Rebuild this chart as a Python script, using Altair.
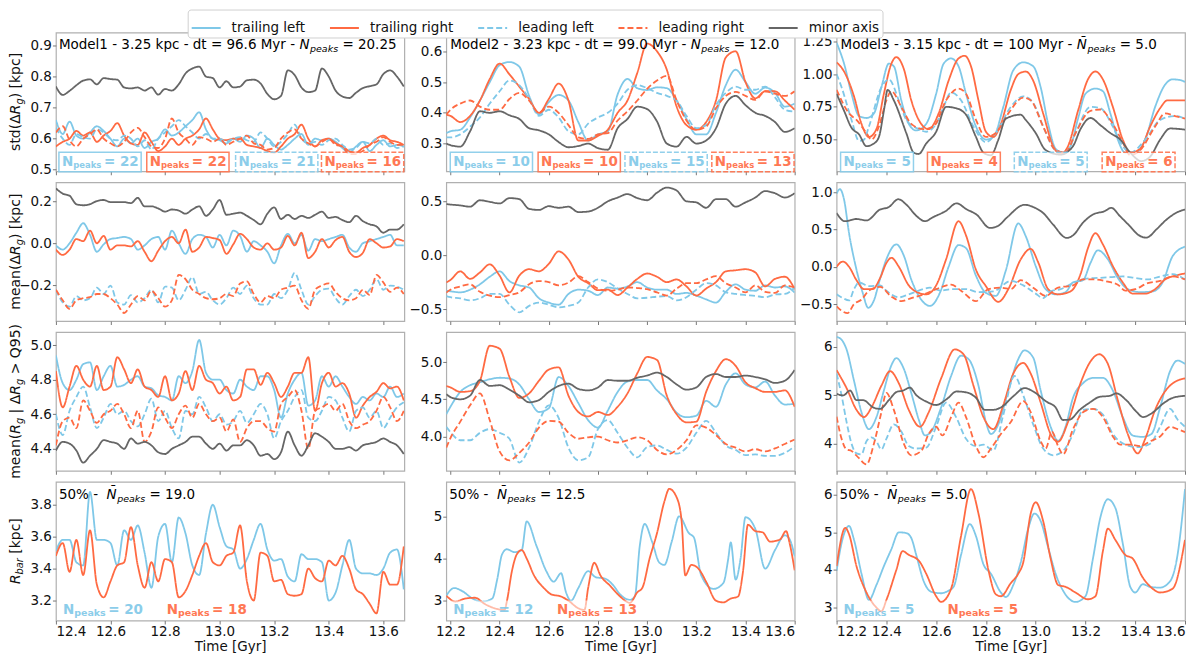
import altair as alt
import pandas as pd

SERIES = ["trailing left", "trailing right", "leading left", "leading right", "minor axis"]
BLUE = "#7FC8E8"
ORANGE = "#FF6A42"
GREY = "#666666"
COLORS = [BLUE, ORANGE, BLUE, ORANGE, GREY]
DASHES = [[1, 0], [1, 0], [6, 3], [6, 3], [1, 0]]

# sample times (Gyr)
T1 = [round(12.4 + 0.025 * i, 3) for i in range(52)]
T2 = [12.183] + [round(12.2 + 0.04 * k, 2) for k in range(36)]

# ---------------- Model1 ----------------
M1_STD_TL = [0.66,0.615,0.655,0.61,0.60,0.62,0.64,0.625,0.60,0.575, 0.60,0.585,0.60,0.57,0.59,0.60,0.63,0.61,0.62,0.64,
             0.66,0.685,0.63,0.60,0.595,0.585,0.60,0.59,0.61,0.60, 0.57,0.60,0.58,0.565,0.58,0.60,0.615,0.58,0.60,0.595,
             0.60,0.59,0.57,0.555,0.575,0.59,0.56,0.58,0.595,0.575, 0.58,0.575]
M1_STD_TR = [0.575,0.59,0.60,0.625,0.61,0.62,0.59,0.61,0.625,0.65, 0.61,0.585,0.58,0.62,0.59,0.56,0.575,0.60,0.58,0.60,
             0.61,0.63,0.665,0.63,0.60,0.595,0.60,0.60,0.58,0.575, 0.57,0.56,0.555,0.575,0.60,0.615,0.645,0.60,0.575,0.595,
             0.60,0.585,0.575,0.56,0.555,0.57,0.58,0.60,0.61,0.595, 0.59,0.58]
M1_STD_LL = [0.635,0.60,0.58,0.615,0.605,0.60,0.63,0.62,0.60,0.595, 0.61,0.60,0.575,0.595,0.565,0.60,0.62,0.64,0.66,0.64,
             0.62,0.60,0.615,0.60,0.60,0.59,0.60,0.605,0.595,0.59, 0.62,0.60,0.575,0.59,0.615,0.645,0.60,0.585,0.59,0.58,
             0.595,0.60,0.58,0.565,0.57,0.59,0.585,0.60,0.58,0.585, 0.57,0.575]
M1_STD_LR = [0.62,0.64,0.595,0.575,0.60,0.615,0.63,0.60,0.585,0.575, 0.59,0.62,0.635,0.605,0.575,0.57,0.60,0.665,0.62,0.60,
             0.58,0.605,0.60,0.59,0.60,0.58,0.59,0.60,0.61,0.585, 0.58,0.565,0.57,0.60,0.62,0.63,0.60,0.585,0.575,0.59,
             0.60,0.58,0.575,0.55,0.55,0.56,0.58,0.59,0.605,0.59, 0.58,0.58]
M1_STD_MN = [0.768,0.741,0.754,0.772,0.787,0.791,0.775,0.795,0.792,0.79, 0.765,0.762,0.765,0.755,0.765,0.742,0.76,0.755,0.775,0.81,
             0.826,0.832,0.80,0.795,0.765,0.785,0.765,0.768,0.788,0.79, 0.778,0.744,0.727,0.738,0.82,0.805,0.765,0.75,0.755,0.826,
             0.80,0.755,0.736,0.731,0.748,0.763,0.769,0.775,0.808,0.82, 0.80,0.768]

M1_MEAN_TL = [-0.01,-0.03,0.0,0.05,0.095,0.04,-0.04,-0.005,0.02,0.025, 0.03,0.02,-0.03,-0.01,0.02,0.03,-0.03,0.06,0.0,-0.05,
              0.02,0.04,0.03,-0.02,0.04,-0.01,0.06,0.035,-0.04,0.01, -0.01,-0.04,-0.095,-0.01,0.045,0.0,0.04,-0.035,0.02,0.01,
              0.02,0.03,0.04,-0.02,-0.04,0.0,0.01,0.02,0.03,0.04, -0.01,-0.01]
M1_MEAN_TR = [-0.03,-0.055,-0.03,0.02,0.01,0.06,0.0,0.035,-0.03,-0.01, -0.01,-0.015,0.01,-0.04,-0.085,-0.035,0.01,0.03,0.0,0.065,
              -0.04,-0.02,0.03,0.025,0.015,-0.05,-0.005,0.045,0.02,-0.02, -0.03,0.0,-0.03,-0.02,0.035,-0.01,0.05,-0.07,-0.04,0.02,
              -0.02,0.015,0.03,-0.04,-0.065,-0.045,0.02,0.0,-0.02,-0.015, 0.02,0.01]
M1_MEAN_LL = [-0.22,-0.28,-0.30,-0.25,-0.27,-0.26,-0.21,-0.24,-0.20,-0.28, -0.29,-0.245,-0.28,-0.26,-0.22,-0.28,-0.205,-0.21,-0.27,-0.22,
              -0.16,-0.24,-0.23,-0.27,-0.29,-0.26,-0.21,-0.24,-0.20,-0.26, -0.29,-0.29,-0.24,-0.26,-0.22,-0.14,-0.22,-0.29,-0.25,-0.22,
              -0.215,-0.26,-0.29,-0.25,-0.22,-0.25,-0.22,-0.17,-0.22,-0.20, -0.205,-0.22]
M1_MEAN_LR = [-0.22,-0.27,-0.31,-0.27,-0.26,-0.255,-0.24,-0.24,-0.26,-0.29, -0.33,-0.29,-0.25,-0.27,-0.225,-0.26,-0.30,-0.27,-0.15,-0.17,
              -0.22,-0.24,-0.26,-0.265,-0.26,-0.24,-0.25,-0.19,-0.18,-0.24, -0.28,-0.25,-0.26,-0.22,-0.21,-0.20,-0.27,-0.31,-0.22,-0.20,
              -0.19,-0.23,-0.26,-0.27,-0.26,-0.22,-0.245,-0.15,-0.185,-0.23, -0.21,-0.24]
M1_MEAN_MN = [0.26,0.235,0.225,0.185,0.18,0.185,0.20,0.205,0.195,0.195, 0.195,0.19,0.215,0.175,0.175,0.165,0.15,0.16,0.155,0.14,
              0.16,0.175,0.13,0.16,0.205,0.135,0.14,0.145,0.13,0.11, 0.09,0.14,0.17,0.115,0.135,0.115,0.13,0.12,0.135,0.15,
              0.12,0.125,0.11,0.10,0.13,0.105,0.09,0.08,0.05,0.065, 0.065,0.09]

M1_Q95_TL = [4.94,4.78,4.74,4.80,4.89,4.90,4.74,4.82,4.88,4.76, 4.77,4.80,4.82,4.76,4.75,4.71,4.70,4.68,4.82,4.78,
             4.85,5.03,4.84,4.80,4.80,4.74,4.72,4.80,4.76,4.74, 4.82,4.82,4.74,4.58,4.72,4.80,4.84,4.65,4.68,4.82,
             4.76,4.82,4.76,4.70,4.66,4.70,4.68,4.72,4.70,4.76, 4.70,4.72]
M1_Q95_TR = [4.85,4.64,4.76,4.88,4.80,4.76,4.88,4.74,4.76,4.93, 4.86,4.78,4.86,4.76,4.74,4.70,4.82,4.68,4.72,4.85,
             4.74,4.88,4.80,4.78,4.72,4.76,4.68,4.70,4.86,4.86, 4.77,4.84,4.78,4.70,4.76,4.84,4.84,4.93,4.62,4.78,
             4.84,4.76,4.78,4.72,4.58,4.65,4.70,4.73,4.78,4.75, 4.76,4.68]
M1_Q95_LL = [4.60,4.48,4.62,4.70,4.76,4.64,4.52,4.58,4.66,4.60, 4.62,4.56,4.53,4.60,4.69,4.56,4.62,4.52,4.46,4.62,
             4.60,4.70,4.64,4.56,4.60,4.54,4.56,4.62,4.55,4.60, 4.66,4.60,4.46,4.56,4.62,4.70,4.74,4.58,4.56,4.62,
             4.70,4.68,4.58,4.50,4.62,4.64,4.58,4.62,4.52,4.58, 4.64,4.67]
M1_Q95_LR = [4.42,4.56,4.58,4.52,4.68,4.62,4.55,4.60,4.62,4.66, 4.60,4.52,4.62,4.44,4.50,4.64,4.58,4.52,4.60,4.65,
             4.58,4.66,4.60,4.56,4.58,4.50,4.57,4.44,4.52,4.56, 4.56,4.52,4.50,4.66,4.70,4.74,4.62,4.40,4.62,4.64,
             4.66,4.62,4.66,4.56,4.52,4.54,4.56,4.62,4.70,4.64, 4.56,4.62]
M1_Q95_MN = [4.39,4.44,4.43,4.39,4.32,4.36,4.40,4.45,4.44,4.43, 4.40,4.46,4.43,4.44,4.42,4.38,4.37,4.40,4.42,4.44,
             4.47,4.47,4.43,4.40,4.43,4.39,4.42,4.42,4.45,4.42, 4.36,4.37,4.34,4.38,4.50,4.42,4.36,4.42,4.49,4.47,
             4.44,4.40,4.40,4.41,4.39,4.42,4.43,4.44,4.46,4.44, 4.42,4.37]

M1_RBAR_TL = [3.51,3.58,3.58,3.44,3.42,3.88,3.58,3.58,3.56,3.42, 3.64,3.58,3.67,3.50,3.28,3.60,3.68,3.44,3.72,3.62,
              3.42,3.36,3.62,3.80,3.66,3.54,3.52,3.40,3.46,3.58, 3.68,3.52,3.45,3.46,3.35,3.32,3.49,3.46,3.46,3.44,
              3.20,3.25,3.42,3.58,3.40,3.37,3.37,3.36,3.40,3.50, 3.52,3.27]
M1_RBAR_TR = [3.48,3.56,3.38,3.58,3.36,3.64,3.30,3.22,3.32,3.42, 3.44,3.66,3.42,3.28,3.44,3.32,3.46,3.44,3.22,3.26,
              3.36,3.48,3.56,3.44,3.42,3.48,3.50,3.67,3.32,3.20, 3.50,3.48,3.32,3.33,3.24,3.23,3.24,3.40,3.34,3.32,
              3.45,3.42,3.48,3.40,3.27,3.24,3.18,3.12,3.38,3.30, 3.30,3.54]

# ---------------- Model2 ----------------
M2_STD_TL = [0.334, 0.34,0.345,0.385,0.44,0.50,0.555,0.565,0.55,0.455,0.395, 0.435,0.458,0.44,0.37,0.31,0.33,0.34,0.46,0.51,0.48,
             0.474,0.483,0.48,0.44,0.38,0.33,0.33,0.40,0.49,0.54, 0.50,0.462,0.482,0.465,0.42,0.43]
M2_STD_TR = [0.394, 0.39,0.37,0.39,0.44,0.51,0.56,0.525,0.485,0.445,0.40, 0.445,0.495,0.44,0.31,0.31,0.325,0.345,0.40,0.44,0.53,
             0.625,0.60,0.54,0.42,0.36,0.345,0.37,0.44,0.58,0.60, 0.50,0.447,0.47,0.47,0.44,0.41]
M2_STD_LL = [0.32, 0.32,0.33,0.355,0.385,0.43,0.47,0.505,0.49,0.445,0.39, 0.41,0.385,0.34,0.33,0.365,0.385,0.40,0.43,0.475,0.49,
             0.48,0.465,0.455,0.44,0.39,0.35,0.36,0.425,0.465,0.485, 0.475,0.475,0.485,0.45,0.41,0.404]
M2_STD_LR = [0.394, 0.41,0.43,0.44,0.42,0.41,0.41,0.445,0.465,0.44,0.40, 0.42,0.40,0.36,0.32,0.315,0.33,0.334,0.375,0.405,0.44,
             0.478,0.505,0.52,0.44,0.375,0.345,0.355,0.415,0.455,0.468, 0.455,0.442,0.47,0.462,0.455,0.47]
M2_STD_MN = [0.30, 0.295,0.29,0.34,0.405,0.40,0.405,0.392,0.38,0.35,0.343, 0.33,0.305,0.288,0.292,0.30,0.285,0.28,0.35,0.38,0.42,
             0.412,0.372,0.30,0.29,0.322,0.30,0.31,0.35,0.43,0.455, 0.425,0.40,0.39,0.37,0.338,0.35]

M2_MEAN_TL = [-0.33, -0.335,-0.345,-0.32,-0.27,-0.20,-0.15,-0.24,-0.28,-0.30,-0.40, -0.44,-0.46,-0.36,-0.32,-0.33,-0.37,-0.30,-0.31,-0.29,-0.25,
              -0.30,-0.32,-0.32,-0.36,-0.35,-0.375,-0.41,-0.44,-0.34,-0.27, -0.32,-0.33,-0.28,-0.30,-0.29,-0.347]
M2_MEAN_TR = [-0.254, -0.23,-0.15,-0.22,-0.16,-0.085,-0.19,-0.345,-0.19,-0.13,-0.15, -0.08,0.035,-0.04,-0.20,-0.26,-0.325,-0.32,-0.37,-0.30,-0.22,
              -0.17,-0.20,-0.25,-0.225,-0.29,-0.375,-0.31,-0.25,-0.15,-0.14, -0.13,-0.16,-0.29,-0.22,-0.20,-0.316]
M2_MEAN_LL = [-0.38, -0.39,-0.40,-0.42,-0.40,-0.36,-0.36,-0.46,-0.53,-0.47,-0.44, -0.46,-0.485,-0.47,-0.44,-0.30,-0.225,-0.25,-0.31,-0.36,-0.40,
              -0.395,-0.385,-0.38,-0.42,-0.39,-0.32,-0.26,-0.28,-0.345,-0.36, -0.37,-0.378,-0.39,-0.365,-0.36,-0.30]
M2_MEAN_LR = [-0.347, -0.32,-0.29,-0.27,-0.34,-0.375,-0.39,-0.37,-0.345,-0.27,-0.24, -0.25,-0.28,-0.255,-0.195,-0.25,-0.31,-0.33,-0.32,-0.30,-0.305,
              -0.316,-0.345,-0.375,-0.31,-0.26,-0.26,-0.225,-0.195,-0.26,-0.30, -0.345,-0.28,-0.34,-0.35,-0.28,-0.30]
M2_MEAN_MN = [0.474, 0.47,0.462,0.45,0.51,0.495,0.48,0.53,0.52,0.43,0.42, 0.455,0.44,0.45,0.40,0.405,0.44,0.50,0.535,0.567,0.53,
              0.51,0.58,0.628,0.60,0.50,0.49,0.44,0.52,0.52,0.45, 0.49,0.535,0.595,0.575,0.535,0.576]

M2_Q95_TL = [4.30, 4.40,4.60,4.69,4.73,4.77,4.79,4.78,4.70,4.50,4.33, 4.38,4.80,4.68,4.45,4.22,4.12,4.35,4.60,4.74,4.76,
             4.76,4.62,4.50,4.32,4.26,4.28,4.48,4.40,4.70,4.85, 4.70,4.66,4.74,4.55,4.43,4.44]
M2_Q95_TR = [4.68, 4.66,4.60,4.61,4.75,5.22,5.18,4.80,4.52,4.58,4.75, 4.90,4.93,4.55,4.33,4.27,4.33,4.29,4.40,4.58,4.85,
             5.07,5.03,4.55,4.30,4.19,4.20,4.60,4.88,5.04,4.95, 4.73,4.65,4.60,4.60,4.62,4.40]
M2_Q95_LL = [4.13, 4.06,3.95,3.95,4.05,4.10,4.05,3.97,3.65,3.85,4.20, 4.42,4.25,3.85,3.68,3.72,4.10,4.22,4.05,3.85,3.72,
             3.86,3.88,3.82,3.77,3.85,4.05,4.21,4.05,3.88,3.82, 3.75,3.76,3.74,3.74,3.78,3.87]
M2_Q95_LR = [3.85, 3.98,4.20,4.42,4.58,4.22,3.80,3.68,3.78,3.92,4.12, 4.21,4.20,4.05,3.97,3.99,4.00,3.95,3.92,3.95,3.99,
             3.95,3.82,3.76,3.82,3.95,4.15,4.12,4.02,3.90,3.85, 3.80,3.83,3.80,3.84,3.90,3.96]
M2_Q95_MN = [4.57, 4.53,4.50,4.55,4.76,4.68,4.69,4.63,4.55,4.46,4.49, 4.60,4.68,4.71,4.64,4.62,4.66,4.76,4.75,4.75,4.79,
             4.82,4.86,4.80,4.70,4.63,4.66,4.80,4.84,4.80,4.80, 4.82,4.80,4.77,4.72,4.75,4.895]

M2_RBAR_TL = [(12.183,3.12),(12.215,3.30),(12.25,3.22),(12.29,3.05),(12.33,2.98),(12.37,3.05),(12.39,3.5),(12.41,4.1),
              (12.43,4.22),(12.46,4.15),(12.49,4.2),(12.51,4.88),(12.55,4.3),(12.59,3.7),(12.62,3.45),(12.65,3.65),
              (12.67,3.2),(12.69,3.0),(12.72,3.3),(12.76,3.7),(12.79,3.56),(12.83,3.52),(12.86,3.38),(12.89,3.15),
              (12.93,3.02),(12.95,3.1),(12.97,4.3),(12.99,4.82),(13.02,4.4),(13.05,3.9),(13.07,3.85),(13.10,4.4),
              (13.13,5.0),(13.17,4.6),(13.19,4.5),(13.22,3.6),(13.27,3.28),(13.31,3.42),(13.33,4.0),(13.34,4.38),
              (13.36,3.5),(13.38,4.0),(13.40,4.98),(13.44,4.7),(13.48,3.76),(13.52,4.2),(13.56,4.55),(13.58,4.45),(13.60,4.05)]
M2_RBAR_TR = [(12.183,3.12),(12.22,2.98),(12.26,3.05),(12.30,3.07),(12.34,2.92),(12.38,2.82),(12.42,2.78),(12.43,3.0),
              (12.45,3.7),(12.47,4.1),(12.49,4.2),(12.51,4.0),(12.54,3.6),(12.58,3.3),(12.61,3.15),(12.65,3.1),
              (12.68,3.0),(12.72,2.82),(12.745,2.78),(12.76,3.3),(12.785,3.9),(12.81,3.6),(12.85,3.35),(12.89,3.1),
              (12.93,2.95),(12.96,3.2),(12.98,3.3),(13.01,4.0),(13.04,4.6),(13.07,5.35),(13.09,5.65),(13.12,5.45),
              (13.14,4.9),(13.155,3.6),(13.18,3.85),(13.21,3.75),(13.24,3.45),(13.28,3.0),(13.31,2.96),(13.34,3.05),
              (13.37,3.1),(13.39,3.7),(13.41,4.8),(13.44,4.65),(13.47,4.62),(13.50,4.4),(13.54,4.45),(13.565,4.65),
              (13.58,4.35),(13.60,3.72)]

# ---------------- Model3 ----------------
M3_STD_TL = [(12.20,1.24),(12.23,1.08),(12.26,0.85),(12.29,0.68),(12.32,0.665),(12.35,0.70),(12.38,0.90),(12.41,1.08),
             (12.43,1.06),(12.46,0.80),(12.49,0.62),(12.52,0.57),(12.56,0.62),(12.60,0.85),(12.63,1.08),(12.66,1.12),
             (12.69,1.06),(12.72,0.85),(12.76,0.60),(12.80,0.50),(12.83,0.52),(12.87,0.75),(12.91,1.03),(12.95,1.09),
             (12.99,1.06),(13.02,0.90),(13.05,0.62),(13.08,0.43),(13.11,0.40),(13.14,0.45),(13.17,0.66),(13.20,0.85),
             (13.24,0.89),(13.27,0.87),(13.30,0.70),(13.33,0.50),(13.36,0.40),(13.40,0.40),(13.44,0.50),(13.48,0.75),
             (13.52,0.92),(13.55,0.96),(13.58,0.955),(13.60,0.94)]
M3_STD_TR = [(12.20,1.09),(12.23,1.02),(12.27,0.83),(12.30,0.62),(12.33,0.52),(12.36,0.58),(12.39,0.85),(12.42,1.08),
             (12.44,1.13),(12.47,1.04),(12.50,0.80),(12.54,0.62),(12.57,0.58),(12.61,0.70),(12.65,0.95),(12.69,1.12),
             (12.715,1.14),(12.74,1.06),(12.77,0.80),(12.80,0.56),(12.83,0.52),(12.86,0.62),(12.90,0.88),(12.93,1.00),
             (12.96,1.02),(12.99,0.95),(13.03,0.70),(13.07,0.45),(13.10,0.39),(13.13,0.45),(13.17,0.72),(13.21,0.96),
             (13.24,1.02),(13.27,0.96),(13.31,0.75),(13.35,0.50),(13.38,0.40),(13.42,0.43),(13.46,0.60),(13.50,0.74),
             (13.53,0.80),(13.60,0.80)]
M3_STD_LL = [(12.20,1.00),(12.22,0.90),(12.26,0.65),(12.29,0.49),(12.31,0.50),(12.33,0.60),(12.38,0.90),(12.41,0.96),
             (12.45,0.80),(12.48,0.65),(12.53,0.58),(12.56,0.56),(12.60,0.62),(12.63,0.75),(12.66,0.86),(12.70,0.80),
             (12.75,0.60),(12.80,0.48),(12.84,0.55),(12.90,0.75),(12.95,0.83),(12.99,0.78),(13.03,0.60),(13.08,0.42),
             (13.12,0.40),(13.16,0.55),(13.22,0.75),(13.26,0.74),(13.31,0.60),(13.35,0.45),(13.38,0.40),(13.44,0.50),
             (13.50,0.65),(13.56,0.68),(13.60,0.66)]
M3_STD_LR = [(12.20,0.88),(12.25,0.70),(12.28,0.65),(12.32,0.55),(12.34,0.50),(12.37,0.60),(12.40,0.80),(12.42,0.87),
             (12.46,0.75),(12.50,0.62),(12.55,0.58),(12.59,0.60),(12.64,0.80),(12.69,0.89),(12.72,0.85),(12.76,0.65),
             (12.80,0.52),(12.84,0.55),(12.89,0.70),(12.95,0.82),(12.98,0.80),(13.03,0.60),(13.08,0.42),(13.12,0.40),
             (13.16,0.55),(13.22,0.72),(13.26,0.73),(13.30,0.65),(13.35,0.48),(13.38,0.38),(13.42,0.42),(13.48,0.60),
             (13.52,0.70),(13.56,0.68),(13.60,0.66)]
M3_STD_MN = [(12.20,0.85),(12.23,0.72),(12.26,0.59),(12.29,0.54),(12.32,0.45),(12.35,0.47),(12.37,0.52),(12.39,0.72),
             (12.405,0.88),(12.43,0.80),(12.48,0.55),(12.51,0.40),(12.53,0.39),(12.56,0.47),(12.60,0.56),(12.64,0.75),
             (12.68,0.74),(12.72,0.69),(12.76,0.52),(12.79,0.40),(12.82,0.38),(12.85,0.50),(12.88,0.66),(12.94,0.69),
             (12.96,0.65),(13.00,0.55),(13.04,0.42),(13.10,0.385),(13.15,0.45),(13.18,0.58),(13.22,0.665),(13.26,0.61),
             (13.30,0.55),(13.34,0.50),(13.38,0.40),(13.425,0.336),(13.46,0.37),(13.50,0.50),(13.54,0.585),(13.60,0.576)]

M3_MEAN_TL = [(12.20,0.98),(12.213,1.04),(12.23,0.90),(12.25,0.45),(12.28,-0.04),(12.305,-0.35),(12.327,-0.55),(12.35,-0.45),
              (12.374,-0.17),(12.40,0.10),(12.44,0.30),(12.47,0.15),(12.50,-0.17),(12.54,-0.44),(12.575,-0.525),(12.615,-0.35),
              (12.65,0.0),(12.69,0.29),(12.72,0.25),(12.76,-0.12),(12.80,-0.35),(12.84,-0.39),(12.88,-0.05),(12.93,0.58),
              (12.96,0.41),(13.00,0.01),(13.04,-0.30),(13.08,-0.37),(13.12,-0.34),(13.15,-0.21),(13.19,-0.18),(13.22,0.05),
              (13.25,0.22),(13.29,0.10),(13.33,-0.15),(13.37,-0.30),(13.42,-0.34),(13.47,-0.33),(13.51,-0.21),(13.55,0.14),(13.60,0.27)]
M3_MEAN_TR = [(12.20,0.0),(12.225,0.07),(12.25,0.0),(12.28,-0.18),(12.31,-0.30),(12.345,-0.30),(12.375,-0.15),(12.40,0.05),
              (12.42,0.12),(12.45,0.0),(12.49,-0.25),(12.53,-0.35),(12.56,-0.37),(12.60,-0.25),(12.64,0.10),(12.69,0.61),
              (12.72,0.42),(12.76,-0.04),(12.80,-0.26),(12.85,-0.47),(12.89,-0.30),(12.94,0.10),(12.98,0.24),(13.01,0.06),
              (13.05,-0.30),(13.09,-0.37),(13.14,-0.33),(13.18,-0.10),(13.21,0.25),(13.24,0.45),(13.27,0.30),(13.31,0.01),
              (13.35,-0.21),(13.39,-0.36),(13.44,-0.36),(13.48,-0.30),(13.52,-0.17),(13.56,-0.12),(13.60,-0.09)]
M3_MEAN_LL = [(12.20,-0.37),(12.225,-0.42),(12.25,-0.45),(12.27,-0.30),(12.29,-0.21),(12.33,-0.26),(12.375,-0.25),(12.40,-0.32),
              (12.45,-0.41),(12.49,-0.37),(12.53,-0.32),(12.575,-0.28),(12.62,-0.32),(12.66,-0.30),(12.72,-0.30),(12.77,-0.34),
              (12.83,-0.33),(12.90,-0.19),(12.95,-0.25),(13.00,-0.36),(13.03,-0.42),(13.06,-0.33),(13.10,-0.30),(13.15,-0.22),
              (13.20,-0.16),(13.25,-0.15),(13.30,-0.14),(13.35,-0.13),(13.40,-0.15),(13.45,-0.17),(13.50,-0.13),(13.55,-0.10),(13.60,-0.17)]
M3_MEAN_LR = [(12.20,-0.53),(12.225,-0.60),(12.245,-0.62),(12.27,-0.50),(12.30,-0.44),(12.33,-0.32),(12.375,-0.27),(12.42,-0.40),
              (12.46,-0.46),(12.50,-0.42),(12.55,-0.37),(12.60,-0.30),(12.66,-0.24),(12.70,-0.32),(12.76,-0.46),(12.81,-0.30),
              (12.86,-0.28),(12.90,-0.30),(12.94,-0.18),(12.99,-0.28),(13.04,-0.39),(13.09,-0.28),(13.15,-0.25),(13.19,-0.17),
              (13.24,-0.17),(13.29,-0.20),(13.33,-0.24),(13.36,-0.32),(13.40,-0.30),(13.45,-0.22),(13.50,-0.19),(13.55,-0.13),(13.60,-0.17)]
M3_MEAN_MN = [(12.20,0.72),(12.233,0.61),(12.28,0.64),(12.32,0.62),(12.374,0.765),(12.41,0.80),(12.448,0.905),(12.481,0.83),
              (12.521,0.68),(12.555,0.61),(12.588,0.665),(12.64,0.75),(12.682,0.85),(12.722,0.77),(12.762,0.70),(12.816,0.52),
              (12.85,0.55),(12.883,0.655),(12.956,0.83),(12.99,0.80),(13.03,0.72),(13.07,0.565),(13.124,0.387),(13.15,0.42),
              (13.19,0.59),(13.23,0.70),(13.277,0.745),(13.304,0.79),(13.338,0.68),(13.378,0.545),(13.411,0.43),(13.445,0.39),
              (13.485,0.50),(13.525,0.63),(13.579,0.745),(13.60,0.765)]

M3_Q95_TL = [(12.20,6.21),(12.22,6.15),(12.24,5.95),(12.27,5.30),(12.30,4.65),(12.33,4.30),(12.36,4.55),(12.39,5.10),
             (12.42,5.62),(12.44,5.77),(12.47,5.55),(12.50,5.05),(12.53,4.50),(12.555,4.17),(12.58,4.25),(12.62,4.75),
             (12.66,5.40),(12.70,5.82),(12.73,5.75),(12.77,5.20),(12.80,4.45),(12.82,4.20),(12.85,4.40),(12.89,5.10),
             (12.93,5.75),(12.955,5.93),(12.99,5.78),(13.02,5.10),(13.06,4.35),(13.09,4.06),(13.12,4.35),(13.15,4.95),
             (13.19,5.25),(13.23,5.36),(13.27,5.36),(13.31,5.10),(13.35,4.55),(13.39,4.17),(13.43,4.14),(13.465,4.20),
             (13.50,4.75),(13.54,5.50),(13.57,5.72),(13.60,5.65)]
M3_Q95_TR = [(12.20,5.52),(12.24,5.15),(12.28,4.70),(12.31,4.55),(12.34,4.75),(12.38,5.20),(12.415,5.50),(12.45,5.25),
             (12.49,4.70),(12.535,4.35),(12.57,4.65),(12.62,5.35),(12.675,5.95),(12.71,5.85),(12.75,5.20),(12.79,4.55),
             (12.83,4.30),(12.87,4.80),(12.91,5.45),(12.95,5.67),(12.98,5.45),(13.02,4.85),(13.06,4.20),(13.09,4.04),
             (13.13,4.45),(13.18,5.25),(13.22,5.70),(13.255,5.85),(13.29,5.65),(13.33,4.90),(13.37,4.20),(13.41,3.80),
             (13.44,4.10),(13.48,4.70),(13.53,5.15),(13.56,5.28),(13.60,5.35)]
M3_Q95_LL = [(12.20,5.45),(12.22,5.00),(12.24,4.45),(12.26,4.00),(12.28,3.80),(12.30,3.78),(12.32,4.05),(12.34,4.13),
             (12.36,4.05),(12.38,3.88),(12.40,4.10),(12.43,4.40),(12.46,4.25),(12.49,3.95),(12.52,3.90),(12.56,3.92),
             (12.60,4.35),(12.64,4.85),(12.68,4.55),(12.72,4.10),(12.76,3.95),(12.79,3.98),(12.83,3.86),(12.87,4.60),
             (12.915,5.40),(12.95,5.00),(12.99,4.40),(13.03,3.90),(13.07,3.76),(13.11,3.85),(13.15,4.20),(13.19,4.70),
             (13.23,4.72),(13.27,4.60),(13.31,4.20),(13.36,3.98),(13.41,3.93),(13.46,4.00),(13.50,4.35),(13.54,4.72),
             (13.57,4.50),(13.60,4.35)]
M3_Q95_LR = [(12.20,4.56),(12.22,4.10),(12.24,3.88),(12.26,3.85),(12.29,3.70),(12.32,3.57),(12.35,4.00),(12.38,4.65),
             (12.40,5.05),(12.43,4.70),(12.47,4.00),(12.50,3.76),(12.54,3.85),(12.57,4.20),(12.60,4.35),(12.625,4.17),
             (12.66,4.55),(12.69,4.85),(12.72,4.55),(12.76,3.95),(12.79,3.72),(12.82,3.90),(12.86,4.20),(12.90,4.45),
             (12.95,4.88),(12.98,4.65),(13.02,4.05),(13.04,3.90),(13.065,4.25),(13.09,3.95),(13.11,3.78),(13.15,4.30),
             (13.19,4.65),(13.23,4.72),(13.27,4.55),(13.31,4.15),(13.34,3.98),(13.38,3.98),(13.42,3.95),(13.46,4.05),
             (13.50,4.15),(13.54,4.35),(13.57,4.30),(13.60,4.24)]
M3_Q95_MN = [(12.20,5.03),(12.227,5.0),(12.254,5.10),(12.28,4.90),(12.307,4.90),(12.347,4.75),(12.374,4.72),(12.41,4.90),
             (12.441,5.07),(12.468,5.10),(12.494,5.16),(12.521,5.0),(12.561,4.87),(12.60,4.80),(12.642,4.92),(12.682,5.08),
             (12.722,5.06),(12.76,4.95),(12.796,4.70),(12.829,4.70),(12.863,4.76),(12.91,4.98),(12.956,5.15),(12.99,5.08),
             (13.043,4.87),(13.08,4.75),(13.11,4.49),(13.137,4.50),(13.177,4.70),(13.217,4.85),(13.257,4.97),(13.298,4.99),
             (13.324,5.04),(13.364,4.90),(13.405,4.66),(13.431,4.55),(13.472,4.65),(13.512,4.83),(13.552,4.95),(13.60,4.99)]

M3_RBAR_TL = [(12.20,3.98),(12.225,4.85),(12.25,5.17),(12.27,4.80),(12.30,3.90),(12.33,3.20),(12.36,3.60),(12.39,4.10),
              (12.42,4.55),(12.45,5.00),(12.48,4.98),(12.50,4.85),(12.52,4.40),(12.55,3.70),(12.58,3.42),(12.62,3.38),
              (12.65,3.45),(12.67,3.55),(12.70,4.40),(12.735,5.22),(12.76,4.90),(12.79,4.15),(12.82,3.90),(12.86,3.40),
              (12.88,3.28),(12.91,3.60),(12.94,4.20),(12.97,5.10),(12.995,5.50),(13.02,5.30),(13.05,4.60),(13.08,3.90),
              (13.11,3.45),(13.16,3.15),(13.20,3.30),(13.23,4.30),(13.26,5.40),(13.29,5.88),(13.32,5.65),(13.35,4.70),
              (13.38,3.55),(13.40,3.40),(13.43,3.62),(13.46,3.55),(13.50,3.53),(13.54,3.70),(13.57,4.40),(13.60,6.15)]
M3_RBAR_TR = [(12.20,4.10),(12.235,5.12),(12.25,4.95),(12.28,4.10),(12.32,3.40),(12.36,3.00),(12.38,2.90),(12.40,3.20),
              (12.44,4.00),(12.465,4.50),(12.49,4.40),(12.53,4.25),(12.56,3.90),(12.60,3.30),(12.62,3.15),(12.66,3.50),
              (12.70,4.90),(12.74,6.15),(12.77,5.50),(12.81,4.00),(12.84,3.35),(12.86,3.30),(12.90,3.65),(12.93,3.90),
              (12.95,4.20),(12.98,5.50),(13.00,5.80),(13.03,5.30),(13.06,4.30),(13.09,3.60),(13.12,3.55),(13.16,3.40),
              (13.21,3.22),(13.24,3.30),(13.27,4.50),(13.29,5.10),(13.32,4.80),(13.36,4.40),(13.39,4.30),(13.43,3.80),
              (13.47,3.50),(13.50,3.40),(13.55,3.50),(13.60,4.80)]

# ---------------- texts ----------------
MODEL_INFO = ["Model1 - 3.25 kpc - dt = 96.6 Myr - ", "Model2 - 3.23 kpc - dt = 99.0 Myr - ",
              "Model3 - 3.15 kpc - dt = 100 Myr - "]
MEAN_NPEAKS = ["20.25", "12.0", "5.0"]
MEAN_NPEAKS_50 = ["19.0", "12.5", "5.0"]
NPEAKS_STD = [[22, 22, 21, 16], [10, 10, 15, 13], [5, 4, 5, 6]]
NPEAKS_RBAR = [[20, 18], [12, 13], [5, 5]]

# y-axis titles as (text, is_subscript) runs; the R and its subscript are italic (math) runs
YTITLES = [
    [("std(\u0394", 0, "normal"), ("R", 0, "italic"), ("g", 1, "italic"), (") [kpc]", 0, "normal")],
    [("mean(\u0394", 0, "normal"), ("R", 0, "italic"), ("g", 1, "italic"), (") [kpc]", 0, "normal")],
    [("mean(", 0, "normal"), ("R", 0, "italic"), ("g", 1, "italic"), (" | \u0394", 0, "normal"),
     ("R", 0, "italic"), ("g", 1, "italic"), (" > Q95)", 0, "normal")],
    [("R", 0, "italic"), ("bar", 1, "italic"), (" [kpc]", 0, "normal")],
]
XDOM = [[12.4, 13.677], [12.183, 13.6], [12.2, 13.6]]
XTICKS = [[12.4, 12.6, 12.8, 13.0, 13.2, 13.4, 13.6],
          [12.2, 12.4, 12.6, 12.8, 13.0, 13.2, 13.4, 13.6],
          [12.2, 12.4, 12.6, 12.8, 13.0, 13.2, 13.4, 13.6]]
YDOM = [[[0.495, 0.942], [0.21, 0.661], [0.258, 1.318]],
        [[-0.368, 0.289], [-0.611, 0.677], [-0.727, 1.132]],
        [[4.273, 5.076], [3.54, 5.405], [3.44, 6.31]],
        [[3.075, 3.944], [2.53, 5.82], [2.655, 6.345]]]
YTICKS = [[[0.5, 0.6, 0.7, 0.8, 0.9], [0.3, 0.4, 0.5, 0.6], [0.5, 0.75, 1.0, 1.25]],
          [[-0.2, 0.0, 0.2], [-0.5, 0.0, 0.5], [-0.5, 0.0, 0.5, 1.0]],
          [[4.4, 4.6, 4.8, 5.0], [4.0, 4.5, 5.0], [4, 5, 6]],
          [[3.2, 3.4, 3.6, 3.8], [3, 4, 5], [3, 4, 5, 6]]]
YFMT = [[".1f", ".1f", ".2f"], [".1f", ".1f", ".1f"], [".1f", ".1f", "d"], [".1f", "d", "d"]]


def grid(ts, *vals):
    return [(ts, v) for v in vals]


def pairs(p):
    return ([a for a, _ in p], [b for _, b in p])


DATA = [
    [dict(zip(SERIES, grid(T1, M1_STD_TL, M1_STD_TR, M1_STD_LL, M1_STD_LR, M1_STD_MN))),
     dict(zip(SERIES, grid(T2, M2_STD_TL, M2_STD_TR, M2_STD_LL, M2_STD_LR, M2_STD_MN))),
     dict(zip(SERIES, [pairs(p) for p in (M3_STD_TL, M3_STD_TR, M3_STD_LL, M3_STD_LR, M3_STD_MN)]))],
    [dict(zip(SERIES, grid(T1, M1_MEAN_TL, M1_MEAN_TR, M1_MEAN_LL, M1_MEAN_LR, M1_MEAN_MN))),
     dict(zip(SERIES, grid(T2, M2_MEAN_TL, M2_MEAN_TR, M2_MEAN_LL, M2_MEAN_LR, M2_MEAN_MN))),
     dict(zip(SERIES, [pairs(p) for p in (M3_MEAN_TL, M3_MEAN_TR, M3_MEAN_LL, M3_MEAN_LR, M3_MEAN_MN)]))],
    [dict(zip(SERIES, grid(T1, M1_Q95_TL, M1_Q95_TR, M1_Q95_LL, M1_Q95_LR, M1_Q95_MN))),
     dict(zip(SERIES, grid(T2, M2_Q95_TL, M2_Q95_TR, M2_Q95_LL, M2_Q95_LR, M2_Q95_MN))),
     dict(zip(SERIES, [pairs(p) for p in (M3_Q95_TL, M3_Q95_TR, M3_Q95_LL, M3_Q95_LR, M3_Q95_MN)]))],
    [dict(zip(SERIES[:2], grid(T1, M1_RBAR_TL, M1_RBAR_TR))),
     dict(zip(SERIES[:2], [pairs(M2_RBAR_TL), pairs(M2_RBAR_TR)])),
     dict(zip(SERIES[:2], [pairs(M3_RBAR_TL), pairs(M3_RBAR_TR)]))],
]

# ---------------- styling / layout ----------------
W, H = 349, 139
FS = 13.5
YFS = 14
ONE = pd.DataFrame({"k": [0]})
BOX_LEFT = [[3, 91, 180, 266], [4, 92, 179, 266], [4, 91, 178, 266]]
BOX_COL = [BLUE, ORANGE, BLUE, ORANGE]
BOX_DASH = [[1, 0], [1, 0], [5, 2], [5, 2]]

# DejaVu Sans advance widths (em) used to place the pieces of composite labels
_REG = {"M": .8628, "o": .6118, "d": .6348, "e": .6152, "l": .2778, " ": .3179, "-": .3608, ".": .3179,
        "k": .5791, "p": .6348, "c": .5498, "t": .3921, "=": .8379, "y": .5918, "r": .4111, "%": .9502,
        "N": .748, "a": .6128, "s": .5205, "\u0304": 0.0, "(": .3901, ")": .3901, "[": .3901, "]": .3901,
        "\u0394": .6846, "R": .6948, "g": .6348, "|": .3369, ">": .8379, "Q": .7871, "b": .6348, "m": .9741,
        "n": .6338, "x": .5918, "i": .2778}
_BOLD = {"N": .8369, "p": .7158, "e": .6782, "a": .6748, "k": .665, "s": .5952, " ": .3481, "=": .8379}


def text_width(s, size, bold=False):
    tab = _BOLD if bold else _REG
    w = 0.0
    for ch in s:
        if ch.isdigit():
            w += .6958 if bold else .6362
        else:
            w += tab.get(ch, .6)
    return w * size


def text_layer(x, y, txt, size=FS, color="black", weight="normal", style="normal", opacity=1.0, angle=0):
    return alt.Chart(ONE).mark_text(align="left", baseline="alphabetic", fontSize=size, color=color,
                                    fontWeight=weight, fontStyle=style, opacity=opacity, angle=angle).encode(
        x=alt.value(x), y=alt.value(y), text=alt.value(txt))


def runs(x0, y0, parts, color="black", weight="normal", opacity=1.0, vertical=False):
    """Lay out runs (text, size, style, baseline_shift, gap_after) one after another."""
    layers = []
    pos = 0.0
    bold = weight == "bold"
    for txt, size, style, shift, gap in parts:
        lead = len(txt) - len(txt.lstrip(" "))
        pos += lead * text_width(" ", size, bold)
        body = txt.strip(" ")
        if body:
            if vertical:
                layers.append(text_layer(x0 + shift, y0 - pos, body, size, color, weight, style, opacity, angle=270))
            else:
                layers.append(text_layer(x0 + pos, y0 + shift, body, size, color, weight, style, opacity))
        pos += text_width(txt.lstrip(" "), size, bold) + gap
    return layers, pos


def mean_label(x0, y0, prefix, value):
    parts = [(prefix, FS, "normal", 0, 0), ("N\u0304", FS, "italic", 0, 0.5),
             ("peaks", 9.5, "italic", 3, 0), (" = " + value, FS, "normal", 0, 0)]
    return runs(x0, y0, parts)[0]


def npeaks_label(x0, y0, n, color, sub):
    parts = [("N", FS, "normal", 0, 0), ("peaks", sub, "normal", 2.5, 2.5), (f"= {n}", FS, "normal", 0, 0)]
    return runs(x0, y0, parts, color=color, weight="bold", opacity=0.9)


def ytitle(row):
    parts = [(t, YFS * (0.7 if sub else 1), st, 3 if sub else 0, 0) for t, sub, st in YTITLES[row]]
    total = sum(text_width(t, s) for t, s, _, _, _ in parts)
    return runs(-36, H / 2 + total / 2, parts, color="#111111", vertical=True)[0]


def rect_layer(x0, x1, y0, y1, stroke=None, dash=None, fill_opacity=0.75):
    kw = dict(fill="white", fillOpacity=fill_opacity)
    if stroke is not None:
        kw.update(stroke=stroke, strokeWidth=1.5, strokeDash=dash, strokeOpacity=0.85)
    else:
        kw.update(strokeWidth=0)
    return alt.Chart(ONE).mark_rect(**kw).encode(
        x=alt.value(x0), x2=alt.value(x1), y=alt.value(y0), y2=alt.value(y1))


def frame(spec):
    rows = []
    for name, (ts, vs) in spec.items():
        for t, v in zip(ts, vs):
            rows.append({"series": name, "t": t, "v": v})
    return pd.DataFrame(rows)


def panel(row, col):
    bottom = row == 3
    xax = alt.Axis(values=XTICKS[col], format=".1f", labels=bottom,
                   title="Time [Gyr]" if bottom else None, titlePadding=1)
    yax = alt.Axis(values=YTICKS[row][col], format=YFMT[row][col], title=None)
    lines = alt.Chart(frame(DATA[row][col])).mark_line(strokeWidth=1.8, interpolate="monotone", clip=True).encode(
        x=alt.X("t:Q", scale=alt.Scale(domain=XDOM[col], nice=False, zero=False), axis=xax),
        y=alt.Y("v:Q", scale=alt.Scale(domain=YDOM[row][col], nice=False, zero=False), axis=yax),
        color=alt.Color("series:N", scale=alt.Scale(domain=SERIES, range=COLORS), legend=alt.Legend(title=None)),
        strokeDash=alt.StrokeDash("series:N", scale=alt.Scale(domain=SERIES, range=DASHES), legend=alt.Legend(title=None)),
    )
    layers = [lines]
    if col == 0:
        layers += ytitle(row)
    if row == 0:
        layers += mean_label(3 if col == 0 else 4, 16.5, MODEL_INFO[col], MEAN_NPEAKS[col])
        for i, n in enumerate(NPEAKS_STD[col]):
            x0 = BOX_LEFT[col][i]
            txt, wdt = npeaks_label(x0 + 3, 133.5, n, BOX_COL[i], 8.5)
            layers.append(rect_layer(x0, x0 + 3 + wdt + 2.5, 120, 139.5, BOX_COL[i], BOX_DASH[i]))
            layers += txt
    if row == 3:
        layers += mean_label(3, 17, "50% -  ", MEAN_NPEAKS_50[col])
        for i, n in enumerate(NPEAKS_RBAR[col]):
            x0 = [7, 111][i]
            txt, wdt = npeaks_label(x0, 132, n, BOX_COL[i], 9.5)
            layers.append(rect_layer(x0 - 2, x0 + wdt + 2, 119, 137, fill_opacity=0.55))
            layers += txt
    return alt.layer(*layers).properties(width=W, height=H)


panels = [panel(r, c) for r in range(4) for c in range(3)]

chart = alt.concat(*panels, columns=3, spacing={"row": 11, "column": 42}, bounds="flush").properties(
    padding={"left": 0, "top": 0, "right": 5, "bottom": 0}
).configure(font="DejaVu Sans").configure_view(
    stroke="#b0b0b0", strokeWidth=1.2
).configure_axis(
    grid=False, domain=False, tickColor="#777777", tickSize=3.5, labelFontSize=FS, titleFontSize=FS,
    titleFontWeight="normal", labelColor="#111111", titleColor="#111111", labelPadding=1,
).configure_legend(
    orient="none", legendX=132, legendY=-23, direction="horizontal", columns=5,
    labelFontSize=FS, labelColor="#111111", symbolType="stroke", symbolSize=841, symbolStrokeWidth=2,
    labelOffset=10, columnPadding=20.5, padding=3, strokeColor="#d0d0d0", fillColor="white", cornerRadius=3,
)

chart.save("out.html", embed_options={"renderer": "svg", "actions": False})
